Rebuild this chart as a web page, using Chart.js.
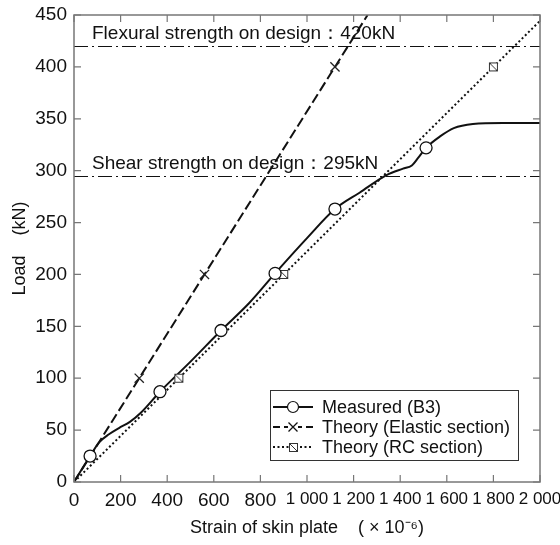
<!DOCTYPE html>
<html>
<head>
<meta charset="utf-8">
<script src="https://cdn.jsdelivr.net/npm/chart.js@4.4.1/dist/chart.umd.min.js"></script>
<style>
  html, body { margin: 0; padding: 0; background: #fff; }
  #wrap { width: 560px; height: 545px; }
</style>
</head>
<body>
<div id="wrap"><canvas id="loadChart"></canvas></div>
<script>
// values
const xTickValues = [0, 200, 400, 600, 800, 1000, 1200, 1400, 1600, 1800, 2000];
const xTickLabels = ['0', '200', '400', '600', '800', '1 000', '1 200', '1 400', '1 600', '1 800', '2 000'];
const yTickValues = [0, 50, 100, 150, 200, 250, 300, 350, 400, 450];

const measuredStrain = [0, 69, 107, 150, 193, 240, 288, 369, 500, 631, 750, 863, 1000, 1120, 1227, 1343, 1412, 1450, 1476, 1511, 1571, 1630, 1712, 1841, 2000];
const measuredLoad   = [0, 25, 38, 46, 52, 58, 67, 87, 116, 146, 172, 201, 235, 263, 279, 296, 302, 305, 312, 322, 333, 341, 345, 346, 346];
const measuredMarkStrain = [69, 369, 631, 863, 1120, 1511];
const measuredMarkLoad   = [25, 87, 146, 201, 263, 322];

const elasticStrain = [0, 1260];
const elasticLoad   = [0, 450];
const elasticMarkStrain = [280, 560, 1120];
const elasticMarkLoad   = [100, 200, 400];

const rcStrain = [0, 2000];
const rcLoad   = [0, 444.4];
const rcMarkStrain = [450, 900, 1800];
const rcMarkLoad   = [100, 200, 400];

const designLoads  = [420, 295];
const designLabels = ['Flexural strength on design\uFF1A420kN', 'Shear strength on design\uFF1A295kN'];

const seriesNames = ['Measured (B3)', 'Theory (Elastic section)', 'Theory (RC section)'];

const FONT = '"Liberation Sans", Arial, Helvetica, sans-serif';

function toPoints(xs, ys) {
    return xs.map((x, i) => ({ x: x, y: ys[i] }));
}

// square with one diagonal, used for the RC markers
function makeSquareMark() {
    const c = document.createElement('canvas');
    c.width = 11; c.height = 11;
    const g = c.getContext('2d');
    g.fillStyle = '#fff';
    g.fillRect(1, 1, 9, 9);
    g.strokeStyle = '#333';
    g.lineWidth = 1;
    g.strokeRect(1.5, 1.5, 8, 8);
    g.beginPath();
    g.moveTo(2, 2);
    g.lineTo(9.5, 9.5);
    g.stroke();
    return c;
}
const squareMark = makeSquareMark();

const lineStyles = [
    { dash: [], width: 2 },
    { dash: [10, 4], width: 2 },
    { dash: [2, 2.5], width: 2 }
];

// dash-dot design lines and their captions
const designLinesPlugin = {
    id: 'designLines',
    beforeDatasetsDraw(chart) {
        const ctx = chart.ctx;
        const area = chart.chartArea;
        const yScale = chart.scales.y;
        ctx.save();
        designLoads.forEach((load, i) => {
            const py = Math.round(yScale.getPixelForValue(load)) + 0.5;
            ctx.strokeStyle = '#111';
            ctx.lineWidth = 1;
            ctx.setLineDash([14, 4, 2, 4]);
            ctx.beginPath();
            ctx.moveTo(area.left, py);
            ctx.lineTo(area.right, py);
            ctx.stroke();
            ctx.setLineDash([]);
            ctx.fillStyle = '#111';
            ctx.font = '19px ' + FONT;
            ctx.textBaseline = 'alphabetic';
            ctx.textAlign = 'left';
            ctx.fillText(designLabels[i], area.left + 18, py - 8);
        });
        ctx.restore();
    }
};

// grey frame with inward ticks on all four sides, plus the legend
const framePlugin = {
    id: 'frame',
    afterDraw(chart) {
        const ctx = chart.ctx;
        const a = chart.chartArea;
        const xs = chart.scales.x, ys = chart.scales.y;
        const tick = 7;
        ctx.save();
        ctx.strokeStyle = '#777';
        ctx.lineWidth = 1.5;
        ctx.strokeRect(a.left, a.top, a.right - a.left, a.bottom - a.top);
        ctx.lineWidth = 1.2;
        ctx.beginPath();
        xTickValues.forEach(v => {
            const px = xs.getPixelForValue(v);
            ctx.moveTo(px, a.bottom); ctx.lineTo(px, a.bottom - tick);
            ctx.moveTo(px, a.top); ctx.lineTo(px, a.top + tick);
        });
        yTickValues.forEach(v => {
            const py = ys.getPixelForValue(v);
            ctx.moveTo(a.left, py); ctx.lineTo(a.left + tick, py);
            ctx.moveTo(a.right, py); ctx.lineTo(a.right - tick, py);
        });
        ctx.stroke();

        // legend
        const bx = 270, by = 390, bw = 248, bh = 70;
        ctx.fillStyle = '#fff';
        ctx.fillRect(bx, by, bw, bh);
        ctx.strokeStyle = '#333';
        ctx.lineWidth = 1;
        ctx.strokeRect(bx + 0.5, by + 0.5, bw, bh);
        seriesNames.forEach((name, i) => {
            const ly = by + 17 + i * 20;
            const st = lineStyles[i];
            ctx.strokeStyle = '#111';
            ctx.lineWidth = st.width;
            ctx.setLineDash(i === 1 ? [7, 4] : st.dash);
            ctx.beginPath();
            ctx.moveTo(bx + 3, ly);
            ctx.lineTo(bx + 43, ly);
            ctx.stroke();
            ctx.setLineDash([]);
            const mx = bx + 23;
            if (i === 0) {
                ctx.fillStyle = '#fff';
                ctx.lineWidth = 1.2;
                ctx.beginPath();
                ctx.arc(mx, ly, 5.5, 0, Math.PI * 2);
                ctx.fill();
                ctx.stroke();
            } else if (i === 1) {
                ctx.fillStyle = '#fff';
                ctx.fillRect(mx - 5, ly - 5, 10, 10);
                ctx.lineWidth = 1.3;
                ctx.beginPath();
                ctx.moveTo(mx - 4.5, ly - 4.5); ctx.lineTo(mx + 4.5, ly + 4.5);
                ctx.moveTo(mx + 4.5, ly - 4.5); ctx.lineTo(mx - 4.5, ly + 4.5);
                ctx.stroke();
            } else {
                ctx.drawImage(squareMark, mx - 5, ly - 5);
            }
            ctx.fillStyle = '#111';
            ctx.font = '18px ' + FONT;
            ctx.textAlign = 'left';
            ctx.textBaseline = 'middle';
            ctx.fillText(name, bx + 52, ly + 1);
        });
        ctx.restore();
    }
};

const ctx = document.getElementById('loadChart').getContext('2d');
new Chart(ctx, {
    type: 'scatter',
    data: {
        datasets: [
            {
                label: seriesNames[0] + ' markers',
                data: toPoints(measuredMarkStrain, measuredMarkLoad),
                showLine: false,
                pointStyle: 'circle',
                pointRadius: 6,
                pointBackgroundColor: '#fff',
                pointBorderColor: '#111',
                pointBorderWidth: 1.3,
                order: 0
            },
            {
                label: seriesNames[1] + ' markers',
                data: toPoints(elasticMarkStrain, elasticMarkLoad),
                showLine: false,
                pointStyle: 'crossRot',
                pointRadius: 6.5,
                pointBorderColor: '#222',
                pointBorderWidth: 1.3,
                order: 0
            },
            {
                label: seriesNames[2] + ' markers',
                data: toPoints(rcMarkStrain, rcMarkLoad),
                showLine: false,
                pointStyle: squareMark,
                order: 0
            },
            {
                label: seriesNames[0],
                data: toPoints(measuredStrain, measuredLoad),
                showLine: true,
                borderColor: '#111',
                borderWidth: lineStyles[0].width,
                cubicInterpolationMode: 'monotone',
                pointRadius: 0,
                order: 1
            },
            {
                label: seriesNames[1],
                data: toPoints(elasticStrain, elasticLoad),
                showLine: true,
                borderColor: '#111',
                borderWidth: lineStyles[1].width,
                borderDash: lineStyles[1].dash,
                pointRadius: 0,
                order: 1
            },
            {
                label: seriesNames[2],
                data: toPoints(rcStrain, rcLoad),
                showLine: true,
                borderColor: '#111',
                borderWidth: lineStyles[2].width,
                borderDash: lineStyles[2].dash,
                pointRadius: 0,
                order: 1
            }
        ]
    },
    options: {
        responsive: true,
        maintainAspectRatio: false,
        animation: false,
        layout: { padding: { top: 15, right: 20, left: 0, bottom: 0 } },
        plugins: {
            legend: { display: false },
            tooltip: { enabled: false }
        },
        scales: {
            x: {
                type: 'linear',
                min: 0,
                max: 2000,
                afterFit: s => { s.height = 63; s.paddingLeft = 0; s.paddingRight = 0; },
                afterBuildTicks: s => { s.ticks = xTickValues.map(v => ({ value: v })); },
                grid: { display: false, drawTicks: false },
                border: { display: false },
                ticks: {
                    padding: 7,
                    color: '#111',
                    maxRotation: 0,
                    autoSkip: false,
                    font: c => ({ family: FONT, size: (c.tick && c.tick.value >= 1000) ? 17 : 19 }),
                    callback: (v) => xTickLabels[xTickValues.indexOf(v)]
                },
                title: {
                    display: true,
                    text: 'Strain of skin plate    ( \u00D7 10\u207B\u2076)',
                    color: '#111',
                    font: { family: FONT, size: 18 },
                    padding: 6
                }
            },
            y: {
                type: 'linear',
                min: 0,
                max: 450,
                afterFit: s => { s.width = 74; s.paddingTop = 0; s.paddingBottom = 0; },
                afterBuildTicks: s => { s.ticks = yTickValues.map(v => ({ value: v })); },
                grid: { display: false, drawTicks: false },
                border: { display: false },
                ticks: {
                    padding: 7,
                    color: '#111',
                    font: { family: FONT, size: 19 }
                },
                title: {
                    display: true,
                    text: 'Load    (kN)',
                    color: '#111',
                    font: { family: FONT, size: 18 },
                    padding: 9
                }
            }
        }
    },
    plugins: [designLinesPlugin, framePlugin]
});
</script>
</body>
</html>
